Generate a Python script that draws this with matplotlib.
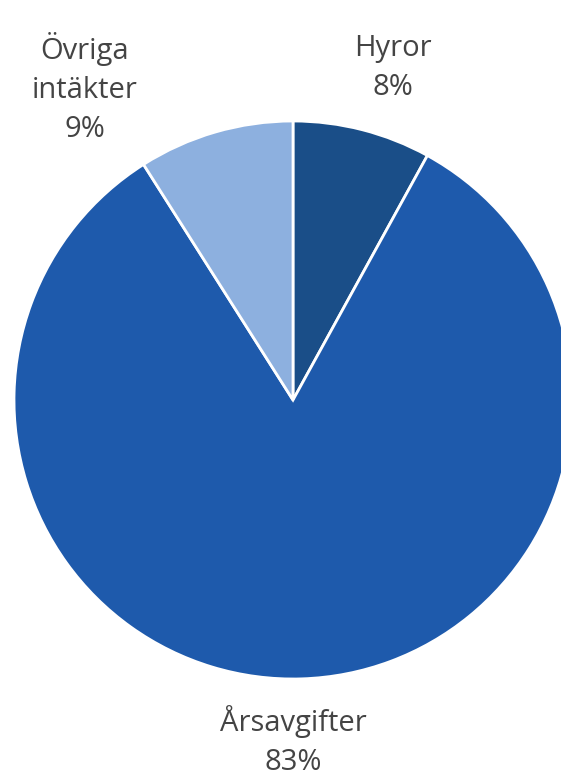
import matplotlib.pyplot as plt

# Intäkter (share of total, %)
LABELS = ["Hyror", "Årsavgifter", "Övriga\nintäkter"]
SHARES = [8, 83, 9]
COLORS = ["#1a4e88", "#1e5aac", "#8db0df"]

W, H = 561, 778
CENTER = (293, H - 400)
RADIUS = 279

# label anchor points (pixels, y up)
LABEL_POS = [(393, H - 68), (293, H - 741), (85, H - 88)]

plt.rcParams["font.family"] = ["Open Sans", "DejaVu Sans"]

fig = plt.figure(figsize=(W / 100, H / 100), dpi=100)
ax = fig.add_axes([0, 0, 1, 1])

ax.pie(
    SHARES,
    colors=COLORS,
    startangle=90,
    counterclock=False,
    center=CENTER,
    radius=RADIUS,
    wedgeprops=dict(edgecolor="white", linewidth=2),
)

for label, share, (x, y) in zip(LABELS, SHARES, LABEL_POS):
    ax.text(
        x, y, f"{label}\n{share}%",
        ha="center", va="center",
        fontsize=21, color="#444444",
        linespacing=1.45,
    )

ax.set_xlim(0, W)
ax.set_ylim(0, H)
ax.set_aspect("equal")
ax.axis("off")

fig.savefig("out.png", dpi=100)
